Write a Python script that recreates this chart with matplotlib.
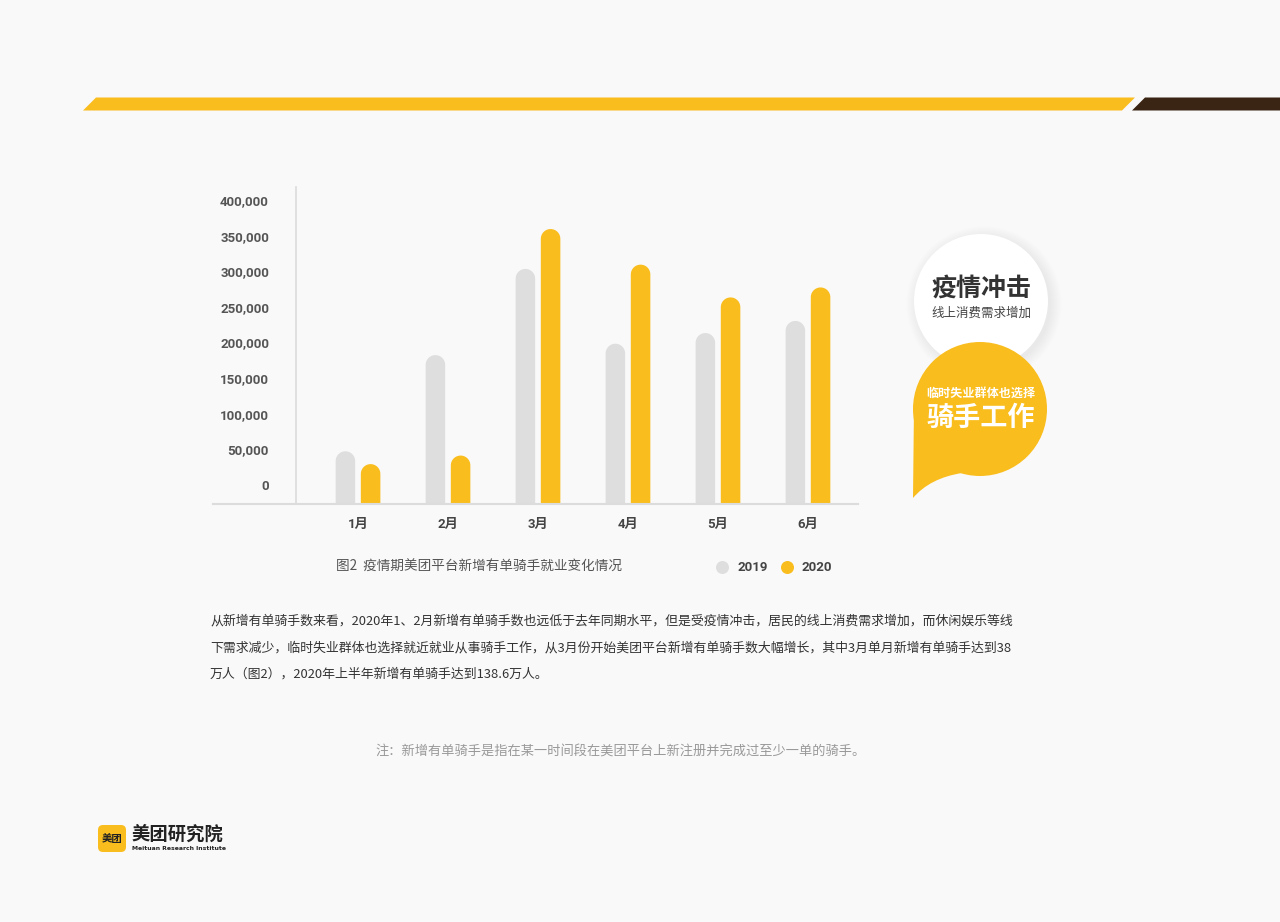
import numpy as np
import matplotlib.pyplot as plt
from matplotlib.patches import Circle, Polygon, FancyBboxPatch, PathPatch
from matplotlib.path import Path
from matplotlib.transforms import ScaledTranslation
from matplotlib.ticker import FuncFormatter

plt.rcParams['font.family'] = ['Noto Sans CJK SC', 'DejaVu Sans']

# 数据
months = ['1月', '2月', '3月', '4月', '5月', '6月']
years = ['2019', '2020']
riders_2019 = [74000, 209000, 330000, 225000, 240000, 257000]
riders_2020 = [56000, 68000, 386000, 336000, 290000, 304000]
yticks = [0, 50000, 100000, 150000, 200000, 250000, 300000, 350000, 400000]

caption = '图2  疫情期美团平台新增有单骑手就业变化情况'
para = ['从新增有单骑手数来看，2020年1、2月新增有单骑手数也远低于去年同期水平，但是受疫情冲击，居民的线上消费需求增加，而休闲娱乐等线',
        '下需求减少，临时失业群体也选择就近就业从事骑手工作，从3月份开始美团平台新增有单骑手数大幅增长，其中3月单月新增有单骑手达到38',
        '万人（图2），2020年上半年新增有单骑手达到138.6万人。']
note = '注：新增有单骑手是指在某一时间段在美团平台上新注册并完成过至少一单的骑手。'

BG = '#F9F9F9'
GREY = '#DEDEDE'
YELLOW = '#F9BD1E'
W, H = 1280, 922

fig = plt.figure(figsize=(W / 100, H / 100), dpi=100, facecolor=BG)

# 背景装饰层，像素坐标
deco = fig.add_axes([0, 0, 1, 1])
deco.set_xlim(0, W)
deco.set_ylim(H, 0)
deco.axis('off')

deco.add_patch(Polygon([(83, 110.5), (96, 97.5), (1135, 97.5), (1122, 110.5)], closed=True, color=YELLOW, lw=0))
deco.add_patch(Polygon([(1132, 110.5), (1145, 97.5), (1280, 97.5), (1280, 110.5)], closed=True, color='#3A2414', lw=0))

# 右侧气泡
for i in range(8):
    deco.add_patch(Circle((984, 304), 67 + i * 1.5, color='black', alpha=0.007, lw=0))
deco.add_patch(Circle((981, 301), 67, color='white', lw=0))
deco.text(981, 289, '疫情冲击', ha='center', va='center', fontsize=18, fontweight='bold', color='#333333')
deco.text(981, 313, '线上消费需求增加', ha='center', va='center', fontsize=9, color='#444444')

deco.add_patch(Circle((980, 409), 67, color=YELLOW, lw=0, zorder=3))
tail = Path([(914, 405), (913, 498), (930, 478), (962, 473), (985, 409), (914, 405)],
            [Path.MOVETO, Path.LINETO, Path.CURVE3, Path.CURVE3, Path.LINETO, Path.CLOSEPOLY])
deco.add_patch(PathPatch(tail, color=YELLOW, lw=0, zorder=3))
deco.text(981, 393, '临时失业群体也选择', ha='center', va='center', fontsize=8.7, fontweight='bold', color='white', zorder=4)
deco.text(981, 418, '骑手工作', ha='center', va='center', fontsize=19.5, fontweight='bold', color='white', zorder=4)

# 图注和图例
deco.text(336, 567, caption, ha='left', va='center', fontsize=9.8, color='#555555')
for cx, year, color in zip([722, 787], years, [GREY, YELLOW]):
    deco.scatter(cx, 567, s=(13 * 0.72) ** 2, color=color, linewidths=0)
    deco.text(cx + 15, 567, year, ha='left', va='center', fontsize=9.5, fontweight='bold',
              color='#444444', family=['Roboto', 'DejaVu Sans'])

# 正文
for i, line in enumerate(para):
    deco.text(210, 621 + i * 26.5, line, ha='left', va='center', fontsize=9.3, color='#333333')
deco.text(621, 752, note, ha='center', va='center', fontsize=9.5, color='#999999')

# logo
deco.add_patch(FancyBboxPatch((98, 825), 28, 27, boxstyle='round,pad=0,rounding_size=5', color=YELLOW, lw=0))
deco.text(112, 839, '美团', ha='center', va='center', fontsize=7.5, fontweight='bold', color='#222222')
deco.text(132, 834, '美团研究院', ha='left', va='center', fontsize=13.2, fontweight='bold', color='#222222')
deco.text(132, 848, 'Meituan Research Institute', ha='left', va='center', fontsize=4.4, fontweight='bold',
          color='#222222', family=['DejaVu Sans'])

# 柱状图
left_px, right_px, top_px, bot_px = 296, 858, 187, 504
ax = fig.add_axes([left_px / W, 1 - bot_px / H, (right_px - left_px) / W, (bot_px - top_px) / H])
ax.set_facecolor('none')
xmin, xmax, ymax = -0.689, 5.556, 445000
ax.set_xlim(xmin, xmax)
ax.set_ylim(0, ymax)

x = np.arange(len(months))
bw = 0.217
xscale = (right_px - left_px) / (xmax - xmin)
yscale = (bot_px - top_px) / ymax
r_y = bw / 2 * xscale / yscale

# 圆头柱子：先用 bar 求位置，再换成带半椭圆顶的路径
theta = np.linspace(0, np.pi, 30)
for vals, color, dx in [(riders_2019, GREY, -0.14), (riders_2020, YELLOW, 0.14)]:
    bars = ax.bar(x + dx, np.array(vals) - r_y, width=bw, color=color, linewidth=0)
    for b in bars:
        x0, w, h = b.get_x(), b.get_width(), b.get_height()
        cx = x0 + w / 2
        verts = [(x0, 0), (x0 + w, 0)] + [(cx + w / 2 * np.cos(t), h + r_y * np.sin(t)) for t in theta] + [(x0, 0)]
        codes = [Path.MOVETO] + [Path.LINETO] * (len(verts) - 2) + [Path.CLOSEPOLY]
        ax.add_patch(PathPatch(Path(verts, codes), color=color, lw=0, zorder=2))
        b.set_visible(False)

for s in ['top', 'right', 'bottom']:
    ax.spines[s].set_visible(False)
ax.spines['left'].set_color('#DCDCDC')
ax.spines['left'].set_linewidth(1.2)
ax.axhline(0, xmin=-(left_px - 213) / (right_px - left_px), xmax=1, color='#DCDCDC', lw=1.5, clip_on=False, zorder=3)

ax.set_yticks(yticks)
ax.yaxis.set_major_formatter(FuncFormatter(lambda v, p: f'{int(v):,}'))
ax.tick_params(axis='y', length=0, pad=19.4, labelsize=9.5, labelcolor='#555555')
shift = ScaledTranslation(0, 19 / 100, fig.dpi_scale_trans)
for lab in ax.get_yticklabels():
    lab.set_fontfamily(['Roboto', 'DejaVu Sans'])
    lab.set_fontweight('bold')
    lab.set_transform(lab.get_transform() + shift)

ax.set_xticks(x, months)
ax.tick_params(axis='x', length=0, pad=10, labelsize=9.5, labelcolor='#444444')
for lab in ax.get_xticklabels():
    lab.set_fontfamily(['Roboto', 'Noto Sans CJK SC'])
    lab.set_fontweight('bold')

fig.savefig('out.png', dpi=100, facecolor=BG)
